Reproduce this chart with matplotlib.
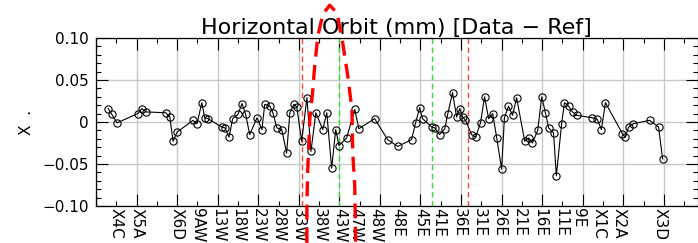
import matplotlib
matplotlib.use("Agg")
import matplotlib.pyplot as plt
import numpy as np

# orbit difference (data - ref), x in lattice units (1 unit = one grid cell)
s_pos = [0.30, 0.39, 0.52, 1.03, 1.13, 1.23, 1.72, 1.82, 1.90, 2.00,
         2.39, 2.49, 2.61, 2.68, 2.76, 3.10, 3.18, 3.28, 3.37, 3.50,
         3.60, 3.69, 3.79, 3.97, 4.09, 4.16, 4.29, 4.36, 4.46, 4.58,
         4.70, 4.78, 4.88, 4.95, 5.07, 5.20, 5.30, 5.42, 5.59, 5.69,
         5.81, 5.91, 5.99, 6.18, 6.38, 6.48, 6.87, 7.19, 7.44, 7.78,
         7.88, 7.98, 8.05, 8.28, 8.35, 8.47, 8.60, 8.67, 8.79, 8.89,
         8.97, 9.04, 9.11, 9.26, 9.36, 9.48, 9.58, 9.68, 9.78, 9.88,
         10.00, 10.07, 10.17, 10.27, 10.37, 10.57, 10.67, 10.76, 10.89, 10.99,
         11.08, 11.16, 11.28, 11.35, 11.48, 11.55, 11.65, 11.75, 11.85, 12.24,
         12.36, 12.46, 12.56, 12.98, 13.05, 13.13, 13.25, 13.65, 13.87, 13.97]
dx = [0.016, 0.009, -0.001, 0.010, 0.016, 0.012, 0.011, 0.006, -0.023, -0.012,
      0.002, -0.002, 0.023, 0.005, 0.004, -0.006, -0.007, -0.018, 0.004, 0.009,
      0.022, 0.009, -0.015, 0.005, -0.009, 0.021, 0.019, 0.011, -0.007, -0.009,
      -0.037, 0.011, 0.021, 0.018, -0.023, 0.029, -0.035, 0.011, -0.009, 0.011,
      -0.055, -0.009, -0.028, -0.019, 0.015, -0.008, 0.004, -0.021, -0.029, -0.021,
      -0.001, 0.017, 0.004, -0.006, -0.007, -0.015, -0.008, 0.009, 0.035, 0.006,
      0.016, 0.006, 0.002, -0.015, -0.018, -0.001, 0.030, 0.004, 0.010, -0.019,
      -0.056, 0.005, 0.019, 0.008, 0.029, -0.023, -0.019, -0.025, -0.010, 0.030,
      0.011, -0.007, -0.013, -0.064, -0.002, 0.023, 0.019, 0.012, 0.008, 0.005,
      0.003, -0.009, 0.023, -0.014, -0.018, -0.006, -0.002, 0.002, -0.006, -0.044]

# BPM names along the bottom
bpm_names = ["X4C", "X5A", "X6D", "9AW", "13W", "18W", "23W", "28W", "33W", "38W",
             "43W", "47W", "48W", "48E", "45E", "41E", "36E", "31E", "26E", "21E",
             "16E", "11E", "9E", "X1C", "X2A", "X3D"]
bpm_pos = [0.5, 1.0, 2.0, 2.5, 3.0, 3.5, 4.0, 4.5, 5.0, 5.5,
           6.0, 6.4, 6.9, 7.45, 8.0, 8.45, 8.95, 9.45, 9.95, 10.45,
           10.95, 11.45, 11.9, 12.4, 12.9, 13.9]

# marker lines
red_lines = [5.07, 9.16]
green_lines = [5.99, 8.28]

# hand-drawn red dashed loop
loop_x = [5.20, 5.20, 5.22, 5.27, 5.34, 5.39, 5.47, 5.59, 5.76, 5.94,
          6.08, 6.21, 6.31, 6.33, 6.38, 6.40]
loop_y = [-0.144, -0.096, -0.057, 0.003, 0.035, 0.066, 0.102, 0.128, 0.139, 0.130,
          0.095, 0.054, 0.015, -0.037, -0.077, -0.144]

fig = plt.figure(figsize=(6.98, 2.43), dpi=100)
ax = fig.add_axes([96 / 698, 37 / 243, 601.5 / 698, 168 / 243])

ax.set_xlim(0, 14.83)
ax.set_ylim(-0.10, 0.10)

# grid
ax.set_xticks(np.arange(0, 15, 1))
ax.set_xticks(np.arange(0.5, 15, 1), minor=True)
ax.set_xticklabels([])
ax.set_yticks([-0.10, -0.05, 0, 0.05, 0.10])
ax.set_yticklabels(["\u22120.10", "\u22120.05", "0", "0.05", "0.10"])
ax.set_yticks(np.arange(-0.10, 0.1001, 0.01), minor=True)
ax.grid(True, which="major", color="#c8c8c8", lw=1.0)
ax.set_axisbelow(True)
ax.tick_params(which="both", direction="in", top=True, right=True,
               labelsize=11, pad=5, width=0.8, color="black")
ax.tick_params(which="major", length=8.5)
ax.tick_params(which="minor", length=3.6)
for sp in ax.spines.values():
    sp.set_linewidth(0.9)

for xv in red_lines:
    ax.axvline(xv, color="#ff4444", lw=1.0, ls=(0, (4, 2.5)))
for xv in green_lines:
    ax.axvline(xv, color="#33dd33", lw=1.0, ls=(0, (4, 2.5)))

ax.plot(s_pos, dx, color="black", lw=0.8, marker="o", ms=5.2,
        mfc="none", mec="black", mew=0.8)

ax.plot(loop_x, loop_y, color="#ff0000", lw=2.4, ls=(0, (4.5, 2.5)),
        clip_on=False, zorder=5)

for name, p in zip(bpm_names, bpm_pos):
    ax.text(p, -0.012, name, transform=ax.get_xaxis_transform(),
            rotation=-90, ha="center", va="top", fontsize=11)

ax.set_title("Horizontal Orbit (mm) [Data \u2212 Ref]", fontsize=16, pad=2)
ax.set_ylabel("X  .", fontsize=11, labelpad=6)

fig.savefig("out.png", dpi=100)
